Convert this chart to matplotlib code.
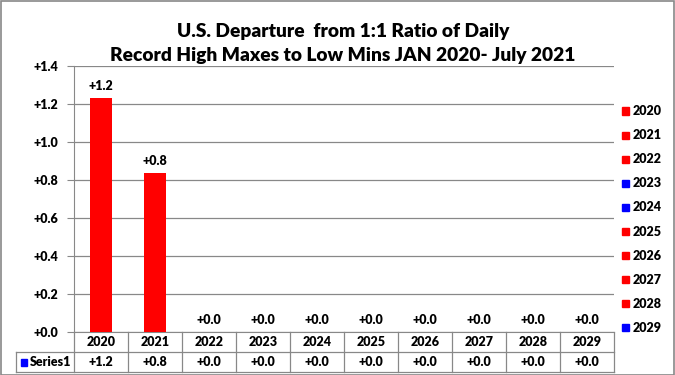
import matplotlib
matplotlib.use("Agg")
from matplotlib import pyplot as plt
from matplotlib.patches import Rectangle
import matplotlib.transforms as mtransforms

# data
years = ["2020", "2021", "2022", "2023", "2024", "2025", "2026", "2027", "2028", "2029"]
values = [1.23, 0.835, 0, 0, 0, 0, 0, 0, 0, 0]
value_labels = ["+1.2", "+0.8", "+0.0", "+0.0", "+0.0", "+0.0", "+0.0", "+0.0", "+0.0", "+0.0"]
legend_colors = ["red", "red", "red", "blue", "blue", "red", "red", "red", "red", "blue"]
y_ticks = [0.0, 0.2, 0.4, 0.6, 0.8, 1.0, 1.2, 1.4]

plt.rcParams["font.family"] = ["Lato", "DejaVu Sans"]
WT = 800
FS = 9

W, H = 675, 375
fig = plt.figure(figsize=(W / 100, H / 100), dpi=100)
fig.patches.append(Rectangle((0.5 / W, 0.5 / H), 1 - 1.5 / W, 1 - 1.5 / H, transform=fig.transFigure,
                             fill=False, edgecolor="#888888", linewidth=1.2))

ax = fig.add_axes([74 / W, (H - 332) / H, 540 / W, 266 / H])
x = list(range(len(years)))
ax.bar(x, values, width=0.39, color="red", zorder=3)
for xi, v, lab in zip(x, values, value_labels):
    ax.annotate(lab, (xi, v), xytext=(0, 4.5), textcoords="offset points", ha="center", va="bottom",
                fontsize=FS, fontweight=WT)

ax.set_xlim(-0.5, len(years) - 0.5)
ax.set_ylim(0, 1.4)
ax.set_yticks(y_ticks)
ax.set_yticklabels(["+%.1f" % t for t in y_ticks], fontsize=FS, fontweight=WT)
ax.tick_params(axis="y", length=5, color="#888888", pad=6)
ax.set_xticks([])
ax.grid(axis="y", color="#888888", linewidth=0.9, zorder=0)
for s in ["top", "right"]:
    ax.spines[s].set_visible(False)
ax.spines["left"].set_color("#888888")
ax.spines["bottom"].set_color("#888888")

# data table below the axes
trans = mtransforms.blended_transform_factory(ax.transData, ax.transAxes)
row_h = 20 / 266
lc = "#888888"
for i in range(len(years) + 1):
    ax.plot([i - 0.5, i - 0.5], [0, -2 * row_h], transform=trans, color=lc, lw=0.9, clip_on=False)
left_x = (16 - 74) / 540 * len(years) - 0.5
ax.plot([left_x, len(years) - 0.5], [-row_h, -row_h], transform=trans, color=lc, lw=0.9, clip_on=False)
ax.plot([left_x, len(years) - 0.5], [-2 * row_h, -2 * row_h], transform=trans, color=lc, lw=0.9, clip_on=False)
ax.plot([left_x, left_x], [-row_h, -2 * row_h], transform=trans, color=lc, lw=0.9, clip_on=False)
for xi, yr, lab in zip(x, years, value_labels):
    ax.text(xi, -0.5 * row_h, yr, transform=trans, ha="center", va="center", fontsize=FS, fontweight=WT)
    ax.text(xi, -1.5 * row_h, lab, transform=trans, ha="center", va="center", fontsize=FS, fontweight=WT)
fig.patches.append(Rectangle((21 / W, (H - 366) / H), 6 / W, 7 / H, transform=fig.transFigure, color="blue"))
fig.text(30 / W, (H - 362.5) / H, "Series1", ha="left", va="center", fontsize=FS, fontweight=WT)

# legend on the right
for i, (yr, c) in enumerate(zip(years, legend_colors)):
    yc = 111 + i * 24.1
    fig.patches.append(Rectangle((622 / W, (H - yc - 3.5) / H), 7 / W, 7 / H, transform=fig.transFigure, color=c))
    fig.text(633 / W, (H - yc) / H, yr, ha="left", va="center", fontsize=FS, fontweight=WT)

fig.text(343 / W, (H - 31) / H, "U.S. Departure  from 1:1 Ratio of Daily", ha="center", va="center",
         fontsize=13.8, fontweight=WT)
fig.text(343 / W, (H - 56) / H, "Record High Maxes to Low Mins JAN 2020- July 2021", ha="center", va="center",
         fontsize=13.8, fontweight=WT)

fig.savefig("out.png", dpi=100)
